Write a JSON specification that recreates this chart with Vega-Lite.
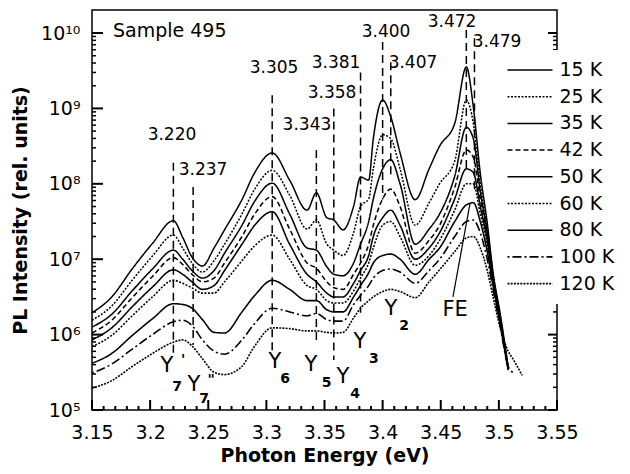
{
  "$schema": "https://vega.github.io/schema/vega-lite/v6.json",
  "width": 465,
  "height": 400,
  "autosize": "none",
  "padding": {"left": 92, "top": 10, "right": 73, "bottom": 64},
  "background": "white",
  "config": {
    "view": {"stroke": "black", "strokeWidth": 1.5},
    "font": "DejaVu Sans",
    "axis": {"labelFont": "DejaVu Sans", "labelFontSize": 19, "labelColor": "black", "titleFont": "DejaVu Sans", "titleFontSize": 19, "titleFontWeight": "bold", "titleColor": "black", "ticks": false, "tickSize": 0, "domain": false, "grid": false, "labelFlush": false, "labelOverlap": false},
    "legend": {"orient": "none", "legendX": 418, "legendY": 40, "symbolType": "M-2.5,0H2.5", "symbolSize": 324, "symbolStrokeColor": "black", "labelFont": "DejaVu Sans", "labelFontSize": 19, "labelColor": "black", "labelOffset": 19.5, "rowPadding": 6.7, "padding": 10, "fillColor": "white"}
  },
  "datasets": {
    "spectra": [
      {"E":3.150,"15 K":1.95e6,"25 K":1.55e6,"35 K":1.26e6,"42 K":1.05e6,"50 K":8.51e5,"60 K":6.92e5,"80 K":4.17e5,"100 K":3.09e5,"120 K":1.95e5},
      {"E":3.167,"15 K":3.16e6,"25 K":2.40e6,"35 K":1.86e6,"42 K":1.55e6,"50 K":1.23e6,"60 K":9.77e5,"80 K":5.62e5,"100 K":4.07e5,"120 K":2.45e5},
      {"E":3.184,"15 K":7.24e6,"25 K":5.13e6,"35 K":3.72e6,"42 K":3.02e6,"50 K":2.29e6,"60 K":1.74e6,"80 K":9.55e5,"100 K":6.31e5,"120 K":3.72e5},
      {"E":3.202,"15 K":1.62e7,"25 K":1.10e7,"35 K":7.41e6,"42 K":5.89e6,"50 K":4.27e6,"60 K":3.16e6,"80 K":1.62e6,"100 K":1.00e6,"120 K":5.62e5},
      {"E":3.220,"15 K":3.24e7,"25 K":2.09e7,"35 K":1.32e7,"42 K":1.05e7,"50 K":7.24e6,"60 K":5.25e6,"80 K":2.57e6,"100 K":1.48e6,"120 K":7.94e5},
      {"E":3.228,"15 K":1.95e7,"25 K":1.41e7,"35 K":1.00e7,"42 K":8.51e6,"50 K":6.31e6,"60 K":4.79e6,"80 K":2.51e6,"100 K":1.55e6,"120 K":8.51e5},
      {"E":3.236,"15 K":1.07e7,"25 K":8.91e6,"35 K":7.08e6,"42 K":6.31e6,"50 K":5.01e6,"60 K":4.17e6,"80 K":2.24e6,"100 K":1.32e6,"120 K":7.08e5},
      {"E":3.245,"15 K":8.13e6,"25 K":6.76e6,"35 K":5.62e6,"42 K":5.01e6,"50 K":3.98e6,"60 K":3.55e6,"80 K":1.58e6,"100 K":8.51e5,"120 K":4.79e5},
      {"E":3.255,"15 K":1.41e7,"25 K":9.55e6,"35 K":7.08e6,"42 K":5.62e6,"50 K":4.47e6,"60 K":3.55e6,"80 K":1.07e6,"100 K":6.03e5,"120 K":3.16e5},
      {"E":3.264,"15 K":2.45e7,"25 K":1.58e7,"35 K":1.20e7,"42 K":8.91e6,"50 K":7.08e6,"60 K":5.01e6,"80 K":1.05e6,"100 K":5.50e5,"120 K":2.95e5},
      {"E":3.279,"15 K":6.17e7,"25 K":3.98e7,"35 K":2.82e7,"42 K":2.00e7,"50 K":1.58e7,"60 K":9.55e6,"80 K":2.00e6,"100 K":8.51e5,"120 K":3.80e5},
      {"E":3.290,"15 K":1.41e8,"25 K":8.51e7,"35 K":5.89e7,"42 K":3.98e7,"50 K":2.82e7,"60 K":1.51e7,"80 K":3.31e6,"100 K":1.41e6,"120 K":7.08e5},
      {"E":3.305,"15 K":2.57e8,"25 K":1.51e8,"35 K":1.02e8,"42 K":6.76e7,"50 K":4.27e7,"60 K":2.09e7,"80 K":5.25e6,"100 K":2.24e6,"120 K":1.23e6},
      {"E":3.320,"15 K":1.12e8,"25 K":7.08e7,"35 K":3.98e7,"42 K":2.51e7,"50 K":1.58e7,"60 K":1.00e7,"80 K":3.98e6,"100 K":2.00e6,"120 K":1.20e6},
      {"E":3.335,"15 K":4.47e7,"25 K":2.51e7,"35 K":1.41e7,"42 K":8.91e6,"50 K":6.31e6,"60 K":4.47e6,"80 K":2.82e6,"100 K":1.78e6,"120 K":1.12e6},
      {"E":3.343,"15 K":7.59e7,"25 K":3.31e7,"35 K":1.32e7,"42 K":7.59e6,"50 K":5.01e6,"60 K":3.98e6,"80 K":2.82e6,"100 K":1.91e6,"120 K":1.12e6},
      {"E":3.352,"15 K":3.55e7,"25 K":1.58e7,"35 K":7.94e6,"42 K":5.01e6,"50 K":3.55e6,"60 K":2.82e6,"80 K":2.14e6,"100 K":1.58e6,"120 K":1.07e6},
      {"E":3.358,"15 K":3.31e7,"25 K":1.32e7,"35 K":6.31e6,"42 K":4.17e6,"50 K":3.16e6,"60 K":2.63e6,"80 K":2.00e6,"100 K":1.51e6,"120 K":1.05e6},
      {"E":3.366,"15 K":2.45e7,"25 K":1.12e7,"35 K":6.03e6,"42 K":3.98e6,"50 K":3.16e6,"60 K":2.63e6,"80 K":2.00e6,"100 K":1.51e6,"120 K":1.07e6},
      {"E":3.375,"15 K":5.01e7,"25 K":2.24e7,"35 K":8.91e6,"42 K":6.31e6,"50 K":4.79e6,"60 K":3.80e6,"80 K":3.16e6,"100 K":2.51e6,"120 K":1.66e6},
      {"E":3.381,"15 K":1.23e8,"25 K":5.01e7,"35 K":1.58e7,"42 K":8.91e6,"50 K":7.08e6,"60 K":5.62e6,"80 K":4.47e6,"100 K":3.31e6,"120 K":2.24e6},
      {"E":3.388,"15 K":1.12e8,"25 K":6.31e7,"35 K":3.16e7,"42 K":1.58e7,"50 K":1.12e7,"60 K":8.91e6,"80 K":6.61e6,"100 K":4.47e6,"120 K":2.82e6},
      {"E":3.392,"15 K":3.98e8,"25 K":1.58e8,"35 K":6.31e7,"42 K":2.82e7,"50 K":2.00e7,"60 K":1.41e7,"80 K":8.91e6,"100 K":5.62e6,"120 K":3.16e6},
      {"E":3.400,"15 K":1.29e9,"25 K":4.47e8,"35 K":1.58e8,"42 K":6.31e7,"50 K":3.55e7,"60 K":2.82e7,"80 K":1.12e7,"100 K":7.08e6,"120 K":3.72e6},
      {"E":3.407,"15 K":7.76e8,"25 K":3.98e8,"35 K":2.09e8,"42 K":8.51e7,"50 K":4.47e7,"60 K":3.16e7,"80 K":1.17e7,"100 K":7.41e6,"120 K":3.98e6},
      {"E":3.415,"15 K":2.57e8,"25 K":1.58e8,"35 K":1.00e8,"42 K":5.01e7,"50 K":2.82e7,"60 K":2.00e7,"80 K":1.00e7,"100 K":6.76e6,"120 K":3.72e6},
      {"E":3.428,"15 K":6.17e7,"25 K":2.82e7,"35 K":1.58e7,"42 K":1.20e7,"50 K":1.00e7,"60 K":8.32e6,"80 K":6.31e6,"100 K":4.79e6,"120 K":3.09e6},
      {"E":3.440,"15 K":1.58e8,"25 K":5.62e7,"35 K":2.51e7,"42 K":1.78e7,"50 K":1.41e7,"60 K":1.12e7,"80 K":1.00e7,"100 K":7.08e6,"120 K":5.01e6},
      {"E":3.449,"15 K":3.16e8,"25 K":1.00e8,"35 K":3.98e7,"42 K":2.82e7,"50 K":2.24e7,"60 K":1.78e7,"80 K":1.41e7,"100 K":1.00e7,"120 K":7.24e6},
      {"E":3.462,"15 K":6.31e8,"25 K":2.00e8,"35 K":1.26e8,"42 K":8.91e7,"50 K":6.31e7,"60 K":4.47e7,"80 K":3.16e7,"100 K":2.00e7,"120 K":1.26e7},
      {"E":3.472,"15 K":3.55e9,"25 K":1.29e9,"35 K":5.62e8,"42 K":2.82e8,"50 K":1.58e8,"60 K":1.00e8,"80 K":5.25e7,"100 K":3.16e7,"120 K":1.91e7},
      {"E":3.478,"15 K":1.05e9,"25 K":6.31e8,"35 K":3.98e8,"42 K":2.24e8,"50 K":1.41e8,"60 K":1.00e8,"80 K":5.62e7,"100 K":3.31e7,"120 K":2.00e7},
      {"E":3.484,"15 K":1.38e8,"25 K":1.00e8,"35 K":7.94e7,"42 K":6.31e7,"50 K":5.01e7,"60 K":3.98e7,"80 K":3.16e7,"100 K":2.24e7,"120 K":1.41e7},
      {"E":3.490,"15 K":3.02e7,"25 K":2.51e7,"35 K":2.24e7,"42 K":2.00e7,"50 K":1.78e7,"60 K":1.58e7,"80 K":1.26e7,"100 K":1.00e7,"120 K":7.08e6},
      {"E":3.495,"15 K":6.61e6,"25 K":6.31e6,"35 K":6.03e6,"42 K":5.62e6,"50 K":5.25e6,"60 K":5.01e6,"80 K":4.47e6,"100 K":3.98e6,"120 K":3.16e6},
      {"E":3.501,"15 K":1.95e6,"25 K":1.78e6,"35 K":1.66e6,"42 K":1.58e6,"50 K":1.51e6,"60 K":1.48e6,"80 K":1.41e6,"100 K":1.32e6,"120 K":1.26e6},
      {"E":3.508,"15 K":3.72e5,"25 K":3.72e5,"35 K":3.63e5,"42 K":3.55e5,"50 K":3.55e5,"60 K":3.47e5,"80 K":3.39e5,"100 K":3.80e5,"120 K":6.03e5},
      {"E":3.512,"100 K":3.16e5,"120 K":4.79e5},
      {"E":3.515,"120 K":3.98e5},
      {"E":3.520,"120 K":2.88e5}
    ],
    "vlines": [
      {"E":3.220,"top":1.9e8,"bot":5.4e5},
      {"E":3.237,"top":9.1e7,"bot":7.3e5},
      {"E":3.305,"top":1.5e9,"bot":5.7e5},
      {"E":3.343,"top":2.8e8,"bot":8.5e5},
      {"E":3.358,"top":1.0e9,"bot":4.6e5},
      {"E":3.381,"top":3.0e9,"bot":1.95e6},
      {"E":3.400,"top":7.6e9,"bot":6.2e7},
      {"E":3.407,"top":4.1e9,"bot":1.3e8},
      {"E":3.472,"top":1.1e10,"bot":1.5e8},
      {"E":3.479,"top":8.5e9,"bot":8.3e7}
    ],
    "peaklabels": [
      {"E":3.2188,"I":4.44e8,"t":"3.220"},
      {"E":3.2455,"I":1.52e8,"t":"3.237"},
      {"E":3.3066,"I":3.44e9,"t":"3.305"},
      {"E":3.3349,"I":6.03e8,"t":"3.343"},
      {"E":3.3565,"I":1.6e9,"t":"3.358"},
      {"E":3.3599,"I":4.0e9,"t":"3.381"},
      {"E":3.4029,"I":1.03e10,"t":"3.400"},
      {"E":3.4261,"I":4.0e9,"t":"3.407"},
      {"E":3.4597,"I":1.4e10,"t":"3.472"},
      {"E":3.4984,"I":7.6e9,"t":"3.479"}
    ],
    "biglabels": [
      {"E":3.2145,"I":3.84e5,"t":"Y"},
      {"E":3.2377,"I":2.14e5,"t":"Y"},
      {"E":3.3074,"I":4.37e5,"t":"Y"},
      {"E":3.3384,"I":3.98e5,"t":"Y"},
      {"E":3.3659,"I":2.75e5,"t":"Y"},
      {"E":3.3805,"I":7.94e5,"t":"Y"},
      {"E":3.4072,"I":2.19e6,"t":"Y"},
      {"E":3.4623,"I":2.14e6,"t":"FE"}
    ],
    "sublabels": [
      {"E":3.2232,"I":2.0e5,"t":"7"},
      {"E":3.2283,"I":4.57e5,"t":"'"},
      {"E":3.2464,"I":1.38e5,"t":"7"},
      {"E":3.2525,"I":2.51e5,"t":"\""},
      {"E":3.3161,"I":2.6e5,"t":"6"},
      {"E":3.3518,"I":2.25e5,"t":"5"},
      {"E":3.3763,"I":1.62e5,"t":"4"},
      {"E":3.3925,"I":4.70e5,"t":"3"},
      {"E":3.4185,"I":1.30e6,"t":"2"}
    ],
    "pointer": [{"E":3.4605,"I":3.16e6,"E2":3.4752,"I2":5.56e7}],
    "sample": [{"E":3.168,"I":1.07e10,"t":"Sample 495"}],
    "xmajor": [{"E":3.15},{"E":3.2},{"E":3.25},{"E":3.3},{"E":3.35},{"E":3.4},{"E":3.45},{"E":3.5},{"E":3.55}],
    "xminor": [{"E":3.16},{"E":3.17},{"E":3.18},{"E":3.19},{"E":3.21},{"E":3.22},{"E":3.23},{"E":3.24},{"E":3.26},{"E":3.27},{"E":3.28},{"E":3.29},{"E":3.31},{"E":3.32},{"E":3.33},{"E":3.34},{"E":3.36},{"E":3.37},{"E":3.38},{"E":3.39},{"E":3.41},{"E":3.42},{"E":3.43},{"E":3.44},{"E":3.46},{"E":3.47},{"E":3.48},{"E":3.49},{"E":3.51},{"E":3.52},{"E":3.53},{"E":3.54}],
    "ymajor": [{"I":1e5},{"I":1e6},{"I":1e7},{"I":1e8},{"I":1e9},{"I":1e10}],
    "yminor": [{"I":2e5},{"I":3e5},{"I":4e5},{"I":5e5},{"I":6e5},{"I":7e5},{"I":8e5},{"I":9e5},{"I":2e6},{"I":3e6},{"I":4e6},{"I":5e6},{"I":6e6},{"I":7e6},{"I":8e6},{"I":9e6},{"I":2e7},{"I":3e7},{"I":4e7},{"I":5e7},{"I":6e7},{"I":7e7},{"I":8e7},{"I":9e7},{"I":2e8},{"I":3e8},{"I":4e8},{"I":5e8},{"I":6e8},{"I":7e8},{"I":8e8},{"I":9e8},{"I":2e9},{"I":3e9},{"I":4e9},{"I":5e9},{"I":6e9},{"I":7e9},{"I":8e9},{"I":9e9}]
  },
  "layer": [
    {
      "data": {"name": "spectra"},
      "transform": [
        {"fold": ["15 K","25 K","35 K","42 K","50 K","60 K","80 K","100 K","120 K"], "as": ["T","I"]},
        {"filter": "isValid(datum.I)"}
      ],
      "mark": {"type": "line", "color": "black", "interpolate": "monotone", "strokeJoin": "round"},
      "encoding": {
        "x": {"field": "E", "type": "quantitative", "scale": {"domain": [3.15, 3.55], "nice": false, "zero": false},
          "axis": {"orient": "bottom", "title": "Photon Energy (eV)", "format": ".2~f",
            "values": [3.15,3.2,3.25,3.3,3.35,3.4,3.45,3.5,3.55],
            "labelPadding": 13, "titlePadding": 4}},
        "y": {"field": "I", "type": "quantitative", "scale": {"type": "log", "domain": [1e5, 2.02e10], "nice": false},
          "axis": {"orient": "left", "title": "PL Intensity (rel. units)",
            "values": [1e5,1e6,1e7,1e8,1e9,1e10],
            "labelExpr": "datum.value == 1e5 ? '10⁵' : datum.value == 1e6 ? '10⁶' : datum.value == 1e7 ? '10⁷' : datum.value == 1e8 ? '10⁸' : datum.value == 1e9 ? '10⁹' : datum.value == 1e10 ? '10¹⁰' : ''",
            "labelPadding": 12, "titlePadding": 10}},
        "strokeDash": {"field": "T", "type": "nominal",
          "scale": {"domain": ["15 K","25 K","35 K","42 K","50 K","60 K","80 K","100 K","120 K"], "range": [[1,0],[2,1.5],[1,0],[5,3],[1,0],[2,1.5],[1,0],[2,3,9,3],[2,1.2]]},
          "legend": {"title": null}},
        "strokeWidth": {"field": "T", "type": "nominal",
          "scale": {"domain": ["15 K","25 K","35 K","42 K","50 K","60 K","80 K","100 K","120 K"], "range": [1.5,1.6,1.5,1.3,2.8,2.6,1.2,1.3,2.8]},
          "legend": {"title": null}}
      }
    },
    {
      "data": {"name": "xmajor"},
      "mark": {"type": "rule", "color": "black", "strokeWidth": 2, "y2Offset": -10},
      "encoding": {
        "x": {"field": "E", "type": "quantitative"},
        "y": {"datum": 1e5, "type": "quantitative"},
        "y2": {"datum": 1e5}
      }
    },
    {
      "data": {"name": "xminor"},
      "mark": {"type": "rule", "color": "black", "strokeWidth": 2, "y2Offset": -4},
      "encoding": {
        "x": {"field": "E", "type": "quantitative"},
        "y": {"datum": 1e5, "type": "quantitative"},
        "y2": {"datum": 1e5}
      }
    },
    {
      "data": {"name": "ymajor"},
      "mark": {"type": "rule", "color": "black", "strokeWidth": 2, "x2Offset": 11},
      "encoding": {
        "y": {"field": "I", "type": "quantitative"},
        "x": {"datum": 3.15, "type": "quantitative"},
        "x2": {"datum": 3.15}
      }
    },
    {
      "data": {"name": "yminor"},
      "mark": {"type": "rule", "color": "black", "strokeWidth": 1.5, "x2Offset": 4},
      "encoding": {
        "y": {"field": "I", "type": "quantitative"},
        "x": {"datum": 3.15, "type": "quantitative"},
        "x2": {"datum": 3.15}
      }
    },
    {
      "data": {"name": "ymajor"},
      "mark": {"type": "rule", "color": "black", "strokeWidth": 2, "x2Offset": -9},
      "encoding": {
        "y": {"field": "I", "type": "quantitative"},
        "x": {"datum": 3.55, "type": "quantitative"},
        "x2": {"datum": 3.55}
      }
    },
    {
      "data": {"name": "yminor"},
      "mark": {"type": "rule", "color": "black", "strokeWidth": 1.5, "x2Offset": -4},
      "encoding": {
        "y": {"field": "I", "type": "quantitative"},
        "x": {"datum": 3.55, "type": "quantitative"},
        "x2": {"datum": 3.55}
      }
    },
    {
      "data": {"name": "vlines"},
      "mark": {"type": "rule", "color": "black", "strokeDash": [8, 5], "strokeWidth": 1.5},
      "encoding": {
        "x": {"field": "E", "type": "quantitative"},
        "y": {"field": "top", "type": "quantitative"},
        "y2": {"field": "bot"}
      }
    },
    {
      "data": {"name": "peaklabels"},
      "mark": {"type": "text", "font": "DejaVu Sans", "fontSize": 17, "color": "black", "align": "center", "baseline": "middle"},
      "encoding": {
        "x": {"field": "E", "type": "quantitative"},
        "y": {"field": "I", "type": "quantitative"},
        "text": {"field": "t"}
      }
    },
    {
      "data": {"name": "biglabels"},
      "mark": {"type": "text", "font": "DejaVu Sans", "fontSize": 21, "color": "black", "align": "center", "baseline": "middle"},
      "encoding": {
        "x": {"field": "E", "type": "quantitative"},
        "y": {"field": "I", "type": "quantitative"},
        "text": {"field": "t"}
      }
    },
    {
      "data": {"name": "sublabels"},
      "mark": {"type": "text", "font": "DejaVu Sans", "fontSize": 14, "fontWeight": "bold", "color": "black", "align": "center", "baseline": "middle"},
      "encoding": {
        "x": {"field": "E", "type": "quantitative"},
        "y": {"field": "I", "type": "quantitative"},
        "text": {"field": "t"}
      }
    },
    {
      "data": {"name": "pointer"},
      "mark": {"type": "rule", "color": "black", "strokeWidth": 1.2},
      "encoding": {
        "x": {"field": "E", "type": "quantitative"},
        "y": {"field": "I", "type": "quantitative"},
        "x2": {"field": "E2"},
        "y2": {"field": "I2"}
      }
    },
    {
      "data": {"name": "sample"},
      "mark": {"type": "text", "font": "DejaVu Sans", "fontSize": 19, "color": "black", "align": "left", "baseline": "middle"},
      "encoding": {
        "x": {"field": "E", "type": "quantitative"},
        "y": {"field": "I", "type": "quantitative"},
        "text": {"field": "t"}
      }
    }
  ]
}
